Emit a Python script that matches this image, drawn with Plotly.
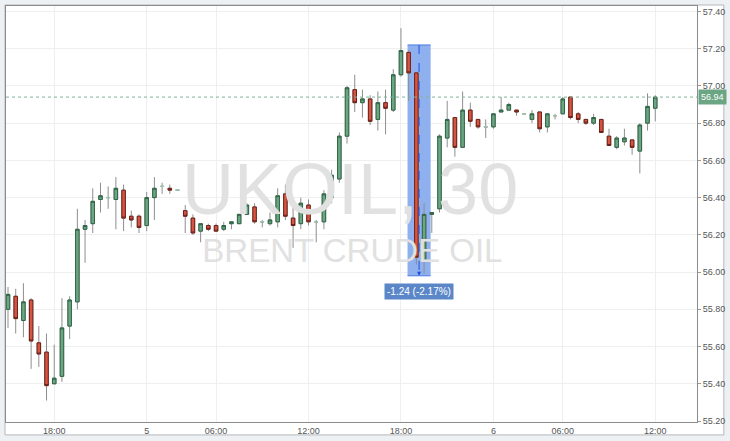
import plotly.graph_objects as go

# ---- data ----
bar_index = list(range(85))
open_ = [55.80, 55.87, 55.74, 55.85, 55.62, 55.57, 55.40, 55.44, 55.71, 55.84,
         56.23, 56.26, 56.39, 56.40, 56.39, 56.44, 56.30, 56.30, 56.25, 56.40,
         56.46, 56.45, 56.44, 56.33, 56.29, 56.22, 56.25, 56.25, 56.23, 56.26,
         56.26, 56.31, 56.35, 56.27, 56.26, 56.27, 56.42, 56.29, 56.26, 56.36,
         56.27, 56.27, 56.40, 56.50, 56.73, 56.98, 56.91, 56.93, 56.82, 56.91,
         56.87, 57.06, 57.18, 57.07, 56.06, 56.31, 56.34, 56.72, 56.83, 56.67,
         56.87, 56.82, 56.78, 56.78, 56.86, 56.87, 56.87, 56.85, 56.82, 56.86,
         56.78, 56.84, 56.85, 56.94, 56.85, 56.82, 56.80, 56.82, 56.73, 56.67,
         56.70, 56.71, 56.65, 56.80, 56.88]
high = [55.92, 55.91, 55.94, 55.86, 55.71, 55.67, 55.61, 55.86, 55.87, 56.34,
        56.28, 56.45, 56.48, 56.46, 56.51, 56.47, 56.33, 56.31, 56.43, 56.51,
        56.48, 56.47, 56.44, 56.36, 56.31, 56.26, 56.26, 56.26, 56.27, 56.27,
        56.31, 56.37, 56.37, 56.28, 56.32, 56.45, 56.47, 56.35, 56.40, 56.39,
        56.28, 56.44, 56.55, 56.75, 57.00, 57.06, 56.98, 56.95, 56.97, 56.98,
        57.09, 57.31, 57.19, 57.07, 56.37, 56.32, 56.74, 56.92, 56.83, 56.97,
        56.91, 56.82, 56.82, 56.85, 56.94, 56.91, 56.87, 56.85, 56.87, 56.86,
        56.85, 56.85, 56.94, 56.94, 56.86, 56.82, 56.85, 56.82, 56.77, 56.73,
        56.77, 56.71, 56.80, 56.96, 56.95]
low = [55.70, 55.67, 55.65, 55.48, 55.49, 55.31, 55.40, 55.41, 55.64, 55.80,
       56.05, 56.21, 56.32, 56.34, 56.23, 56.22, 56.24, 56.21, 56.22, 56.28,
       56.42, 56.42, 56.44, 56.21, 56.20, 56.16, 56.22, 56.22, 56.22, 56.23,
       56.26, 56.31, 56.26, 56.24, 56.25, 56.24, 56.28, 56.13, 56.23, 56.25,
       56.16, 56.23, 56.37, 56.48, 56.69, 56.86, 56.83, 56.79, 56.76, 56.74,
       56.86, 57.05, 56.92, 56.04, 55.99, 56.21, 56.32, 56.67, 56.62, 56.67,
       56.78, 56.77, 56.72, 56.77, 56.86, 56.87, 56.84, 56.85, 56.80, 56.75,
       56.75, 56.82, 56.85, 56.82, 56.80, 56.79, 56.79, 56.75, 56.68, 56.66,
       56.68, 56.63, 56.53, 56.76, 56.81]
close = [55.88, 55.75, 55.84, 55.63, 55.56, 55.39, 55.43, 55.70, 55.85, 56.23,
         56.25, 56.38, 56.41, 56.40, 56.45, 56.29, 56.28, 56.24, 56.40, 56.45,
         56.46, 56.44, 56.44, 56.30, 56.21, 56.26, 56.23, 56.22, 56.25, 56.27,
         56.31, 56.36, 56.27, 56.27, 56.28, 56.41, 56.30, 56.25, 56.37, 56.27,
         56.27, 56.42, 56.52, 56.73, 56.99, 56.91, 56.93, 56.81, 56.91, 56.88,
         57.06, 57.19, 57.07, 56.08, 56.31, 56.32, 56.73, 56.82, 56.67, 56.87,
         56.81, 56.78, 56.78, 56.85, 56.87, 56.90, 56.86, 56.85, 56.85, 56.77,
         56.85, 56.84, 56.93, 56.83, 56.82, 56.80, 56.83, 56.75, 56.68, 56.72,
         56.72, 56.67, 56.79, 56.89, 56.94]

tick_index = [6, 18, 27, 39, 51, 63, 72, 84]
tick_text = ['18:00', '5', '06:00', '12:00', '18:00', '6', '06:00', '12:00']
price_ticks = [55.20, 55.40, 55.60, 55.80, 56.00, 56.20, 56.40, 56.60, 56.80, 57.00, 57.20, 57.40]
price_tick_text = ['55.20', '55.40', '55.60', '55.80', '56.00', '56.20', '56.40', '56.60',
                   '56.80', '57.00', '57.20', '57.40']

last_price = 56.94
last_price_text = '56.94'
measure_from_price = 57.22
measure_to_price = 55.98
measure_bar_span = [51.85, 54.85]
measure_label = '-1.24 (-2.17%)'
watermark_title = 'UKOIL, 30'
watermark_subtitle = 'BRENT CRUDE OIL'

# ---- figure geometry ----
W, H = 730, 441
ML, MR, MT, MB = 5, 30, 5, 17
PW, PH = W - ML - MR, H - MT - MB

FONT = 'Liberation Sans, Arial, sans-serif'
UP_FILL, UP_LINE = '#6ba583', '#2f6645'
DN_FILL, DN_LINE = '#d75442', '#6b2016'
WICK = '#8e8e8e'

fig = go.Figure()

# watermark (drawn first, behind candles)
mid_bar = sum(measure_bar_span) / 2
fig.add_trace(go.Scatter(x=[44.4], y=[56.41], mode='text', text=[watermark_title],
                         textfont=dict(size=72, color='#e1e1e1', family=FONT),
                         hoverinfo='skip', showlegend=False))
fig.add_trace(go.Scatter(x=[44.7], y=[56.10], mode='text', text=[watermark_subtitle],
                         textfont=dict(size=33, color='#e1e1e1', family=FONT),
                         hoverinfo='skip', showlegend=False))

# wicks
fig.add_trace(go.Candlestick(
    x=bar_index, open=open_, high=high, low=low, close=close,
    increasing=dict(line=dict(color=WICK, width=1), fillcolor='rgba(0,0,0,0)'),
    decreasing=dict(line=dict(color=WICK, width=1), fillcolor='rgba(0,0,0,0)'),
    whiskerwidth=0, hoverinfo='skip', showlegend=False))

# bodies
body_hi = [max(o, c) for o, c in zip(open_, close)]
body_lo = [min(o, c) for o, c in zip(open_, close)]
nd = [i for i in bar_index if open_[i] != close[i]]
fig.add_trace(go.Candlestick(
    x=[bar_index[i] for i in nd], open=[open_[i] for i in nd], high=[body_hi[i] for i in nd],
    low=[body_lo[i] for i in nd], close=[close[i] for i in nd],
    increasing=dict(line=dict(color=UP_LINE, width=1), fillcolor=UP_FILL),
    decreasing=dict(line=dict(color=DN_LINE, width=1), fillcolor=DN_FILL),
    whiskerwidth=0, hoverinfo='skip', showlegend=False))

# doji bars (open == close)
dj = [i for i in bar_index if open_[i] == close[i]]
fig.add_trace(go.Candlestick(
    x=[bar_index[i] for i in dj], open=[open_[i] for i in dj], high=[close[i] + 0.001 for i in dj],
    low=[open_[i] for i in dj], close=[close[i] + 0.001 for i in dj],
    increasing=dict(line=dict(color='#9cc7ad', width=1), fillcolor='#9cc7ad'),
    decreasing=dict(line=dict(color='#9cc7ad', width=1), fillcolor='#9cc7ad'),
    whiskerwidth=0, hoverinfo='skip', showlegend=False))

def px_to_paper_x(px):
    return (px - ML) / PW

def py_to_paper_y(py):
    return (H - MB - py) / PH

shapes = [
    # white panel with border (covers plot + axis label areas)
    dict(type='rect', xref='paper', yref='paper', layer='below',
         x0=px_to_paper_x(4), x1=px_to_paper_x(727), y0=py_to_paper_y(437), y1=py_to_paper_y(4),
         fillcolor='white', line=dict(color='#b4b8bc', width=1)),
    # measurement highlight
    dict(type='rect', xref='x', yref='y', layer='between',
         x0=measure_bar_span[0], x1=measure_bar_span[1], y0=measure_to_price, y1=measure_from_price,
         fillcolor='#8fb0ef', line=dict(width=0)),
    dict(type='line', xref='x', yref='y', x0=measure_bar_span[0], x1=measure_bar_span[1],
         y0=measure_from_price, y1=measure_from_price, line=dict(color='#4a7ae6', width=1)),
    dict(type='line', xref='x', yref='y', x0=measure_bar_span[0], x1=measure_bar_span[1],
         y0=measure_to_price, y1=measure_to_price, line=dict(color='#4a7ae6', width=1)),
    dict(type='line', xref='x', yref='y', x0=mid_bar, x1=mid_bar,
         y0=measure_from_price, y1=measure_to_price, line=dict(color='#2251d8', width=1, dash='dash')),
    # last price line
    dict(type='line', xref='paper', yref='y', x0=0, x1=1, y0=last_price, y1=last_price,
         line=dict(color='#7fb496', width=1, dash='dot')),
]

annotations = [
    dict(x=1, xref='paper', y=last_price, yref='y', text=last_price_text, showarrow=False,
         xanchor='left', yanchor='middle', xshift=1, bgcolor=UP_FILL, borderpad=2,
         font=dict(color='white', size=9, family=FONT)),
    dict(x=mid_bar, xref='x', y=measure_to_price, yref='y', text=measure_label, showarrow=False,
         xanchor='center', yanchor='top', yshift=-7, bgcolor='#5b87c9', borderpad=2,
         font=dict(color='white', size=10, family=FONT)),
    dict(x=mid_bar, xref='x', y=measure_to_price, yref='y', ax=mid_bar, axref='x',
         ay=measure_to_price + 0.03, ayref='y', text='', showarrow=True, arrowhead=2,
         arrowsize=0.8, arrowwidth=1, arrowcolor='#2251d8'),
]

fig.update_layout(
    width=W, height=H, margin=dict(l=ML, r=MR, t=MT, b=MB),
    paper_bgcolor='#eef1f4', plot_bgcolor='rgba(0,0,0,0)',
    font=dict(family=FONT, size=9, color='#555555'),
    showlegend=False, hovermode=False, boxgap=0.35,
    shapes=shapes, annotations=annotations,
    xaxis=dict(range=[-0.26, 89.42], tickvals=tick_index, ticktext=tick_text,
               showgrid=True, gridcolor='#efefef', gridwidth=1, zeroline=False,
               showline=True, mirror=True, linecolor='#8c8c8c', linewidth=1,
               ticks='', tickfont=dict(size=9, color='#555555'),
               rangeslider=dict(visible=False), fixedrange=True),
    yaxis=dict(range=[55.1947, 57.4293], side='right', tickvals=price_ticks, ticktext=price_tick_text,
               showgrid=True, gridcolor='#efefef', gridwidth=1, zeroline=False,
               showline=True, mirror=True, linecolor='#8c8c8c', linewidth=1,
               ticks='outside', ticklen=3, tickcolor='#9a9a9a',
               tickfont=dict(size=9, color='#555555'), fixedrange=True),
)

fig.write_html('out.html', config={'displayModeBar': False},
               post_script="document.body.style.margin='0';document.body.style.overflow='hidden';")
